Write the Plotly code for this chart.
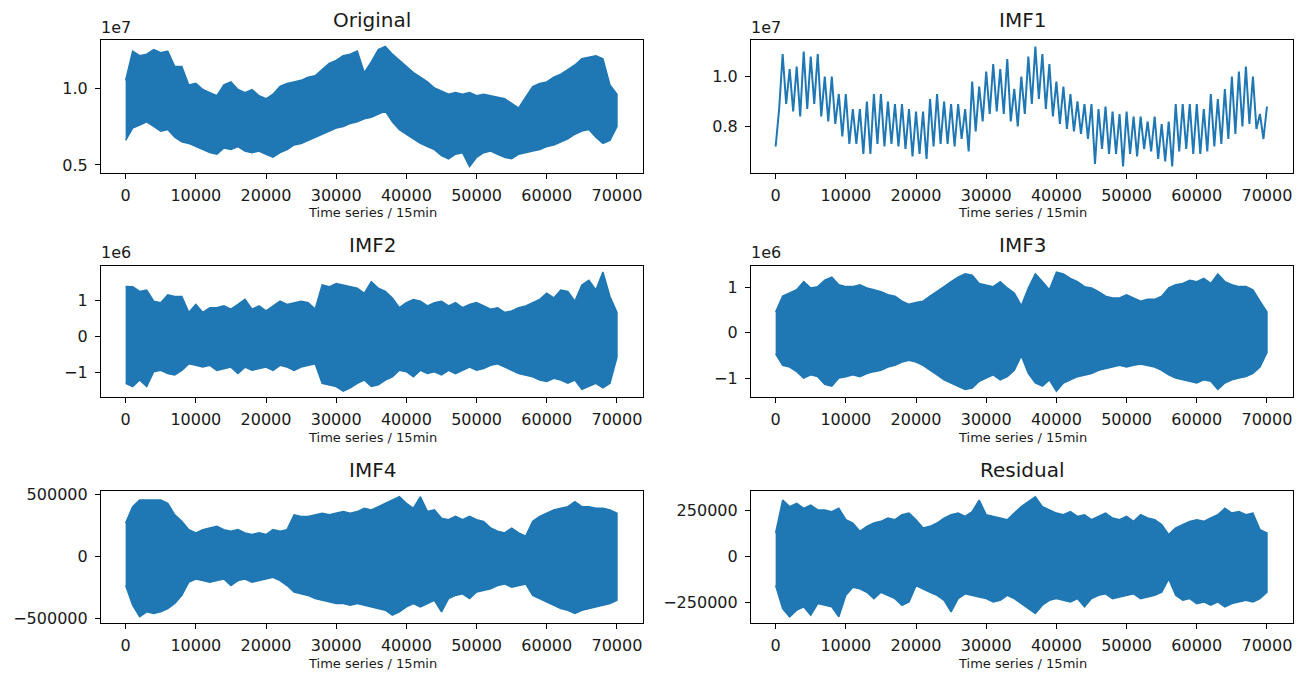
import numpy as np
import plotly.graph_objects as go

# ---------------- data ----------------
X_TICKS = [0, 10000, 20000, 30000, 40000, 50000, 60000, 70000]
X_TICK_LABELS = ["0", "10000", "20000", "30000", "40000", "50000", "60000", "70000"]
SAMPLE_X = [i * 1000 for i in range(71)]          # envelope sample positions
TROUGH_X = [i * 1000 + 500 for i in range(70)]    # IMF1 trough positions

# Original (x1e7) envelope
ORIGINAL_UPPER = [1.05, 1.24, 1.21, 1.22, 1.25, 1.23, 1.24, 1.14, 1.14, 1.02,
                  1.03, 0.99, 0.97, 0.95, 1.02, 1.04, 0.99, 0.97, 0.99, 0.95,
                  0.93, 0.96, 1.01, 1.03, 1.04, 1.05, 1.07, 1.08, 1.12, 1.16,
                  1.18, 1.21, 1.22, 1.24, 1.10, 1.17, 1.25, 1.27, 1.22, 1.18,
                  1.14, 1.10, 1.07, 1.04, 1.00, 0.98, 0.96, 0.97, 0.96, 0.97,
                  0.95, 0.96, 0.95, 0.94, 0.93, 0.90, 0.87, 0.94, 1.01, 1.03,
                  1.04, 1.07, 1.09, 1.12, 1.15, 1.19, 1.20, 1.21, 1.19, 1.02,
                  0.96]
ORIGINAL_LOWER = [0.66, 0.74, 0.76, 0.78, 0.75, 0.72, 0.73, 0.68, 0.65, 0.64,
                  0.62, 0.60, 0.58, 0.57, 0.61, 0.60, 0.62, 0.59, 0.58, 0.59,
                  0.57, 0.55, 0.58, 0.60, 0.63, 0.64, 0.66, 0.68, 0.70, 0.72,
                  0.74, 0.75, 0.77, 0.78, 0.80, 0.81, 0.83, 0.85, 0.78, 0.73,
                  0.70, 0.67, 0.64, 0.62, 0.60, 0.56, 0.54, 0.57, 0.58, 0.49,
                  0.55, 0.58, 0.59, 0.57, 0.55, 0.54, 0.57, 0.58, 0.59, 0.60,
                  0.62, 0.63, 0.65, 0.67, 0.70, 0.72, 0.73, 0.68, 0.64, 0.66,
                  0.75]

# IMF1 (x1e7) peaks at SAMPLE_X and troughs at TROUGH_X
IMF1_PEAKS = [0.72, 1.09, 1.03, 1.04, 1.10, 1.08, 1.09, 1.00, 1.00, 0.93,
              0.93, 0.87, 0.87, 0.90, 0.93, 0.93, 0.90, 0.89, 0.89, 0.87,
              0.86, 0.86, 0.91, 0.93, 0.90, 0.89, 0.89, 0.87, 0.98, 0.96,
              1.02, 1.05, 1.03, 1.07, 0.95, 1.00, 1.08, 1.12, 1.09, 1.05,
              0.98, 0.96, 0.93, 0.90, 0.89, 0.89, 0.87, 0.88, 0.86, 0.85,
              0.86, 0.84, 0.84, 0.82, 0.84, 0.81, 0.82, 0.89, 0.89, 0.89,
              0.89, 0.87, 0.93, 0.91, 0.95, 1.00, 1.02, 1.04, 1.00, 0.85,
              0.88]
IMF1_TROUGHS = [0.87, 0.89, 0.86, 0.84, 0.87, 0.89, 0.84, 0.82, 0.81, 0.76,
                0.73, 0.73, 0.69, 0.69, 0.73, 0.72, 0.73, 0.72, 0.71, 0.68,
                0.69, 0.67, 0.72, 0.73, 0.73, 0.72, 0.75, 0.70, 0.78, 0.82,
                0.85, 0.86, 0.85, 0.82, 0.80, 0.85, 0.89, 0.91, 0.87, 0.84,
                0.81, 0.79, 0.78, 0.77, 0.75, 0.65, 0.71, 0.69, 0.69, 0.64,
                0.69, 0.68, 0.71, 0.70, 0.67, 0.66, 0.64, 0.70, 0.71, 0.69,
                0.69, 0.70, 0.72, 0.73, 0.75, 0.77, 0.80, 0.81, 0.79, 0.75]

# IMF2 (x1e6)
IMF2_UPPER = [1.40, 1.39, 1.26, 1.30, 0.99, 0.95, 1.17, 1.12, 1.12, 0.68,
              0.90, 0.68, 0.81, 0.81, 0.86, 0.77, 0.90, 1.04, 0.77, 0.86,
              0.72, 0.86, 0.99, 0.90, 0.95, 0.99, 0.95, 0.77, 1.44, 1.39,
              1.48, 1.44, 1.39, 1.35, 1.21, 1.53, 1.35, 1.26, 1.08, 0.81,
              0.95, 1.04, 0.99, 0.86, 0.95, 0.99, 0.86, 0.95, 0.81, 0.90,
              0.95, 0.86, 0.77, 0.81, 0.68, 0.72, 0.81, 0.86, 0.95, 1.04,
              1.21, 1.08, 1.30, 1.26, 0.99, 1.44, 1.57, 1.30, 1.80, 1.12,
              0.68]
IMF2_LOWER = [-1.29, -1.38, -1.20, -1.38, -0.97, -0.93, -1.02, -1.06, -0.93, -0.75,
              -0.79, -0.84, -0.79, -0.93, -0.88, -0.84, -1.02, -0.84, -0.93, -0.88,
              -0.84, -0.93, -0.79, -0.84, -0.93, -0.84, -0.79, -0.75, -1.29, -1.33,
              -1.38, -1.51, -1.42, -1.29, -1.20, -1.38, -1.33, -1.20, -1.11, -0.93,
              -0.97, -1.11, -0.93, -1.02, -0.97, -1.06, -0.93, -1.02, -0.93, -0.84,
              -0.93, -0.88, -0.79, -0.75, -0.84, -0.93, -1.02, -1.06, -1.11, -1.20,
              -1.24, -1.15, -1.20, -1.29, -1.20, -1.46, -1.38, -1.29, -1.42, -1.29,
              -0.57]

# IMF3 (x1e6)
IMF3_UPPER = [0.45, 0.80, 0.87, 0.94, 1.12, 0.98, 1.01, 1.15, 1.22, 1.05,
              1.01, 1.01, 1.05, 0.98, 0.94, 0.90, 0.83, 0.80, 0.69, 0.62,
              0.66, 0.69, 0.80, 0.90, 1.01, 1.12, 1.22, 1.29, 1.26, 1.08,
              1.05, 1.01, 1.12, 0.98, 0.87, 0.59, 0.98, 1.29, 1.12, 0.94,
              1.33, 1.29, 1.19, 1.12, 1.01, 0.98, 0.90, 0.80, 0.76, 0.76,
              0.83, 0.76, 0.69, 0.73, 0.73, 0.80, 0.98, 1.05, 1.08, 1.15,
              1.12, 1.19, 1.08, 1.29, 1.12, 1.05, 1.01, 1.01, 0.94, 0.69,
              0.45]
IMF3_LOWER = [-0.47, -0.72, -0.76, -0.86, -1.00, -0.93, -0.97, -1.14, -1.18, -1.00,
              -0.97, -0.93, -0.97, -0.90, -0.86, -0.83, -0.76, -0.72, -0.65, -0.61,
              -0.65, -0.72, -0.83, -0.93, -1.04, -1.11, -1.18, -1.25, -1.22, -1.07,
              -1.00, -0.93, -1.04, -0.97, -0.83, -0.51, -0.90, -1.11, -1.18, -1.04,
              -1.29, -1.11, -1.04, -0.97, -0.93, -0.90, -0.83, -0.79, -0.76, -0.72,
              -0.76, -0.72, -0.69, -0.72, -0.76, -0.83, -0.93, -1.00, -1.04, -1.07,
              -1.11, -1.04, -1.07, -1.25, -1.11, -1.04, -1.00, -0.97, -0.90, -0.76,
              -0.44]

# IMF4 (thousands)
IMF4_UPPER = [271, 404, 457, 457, 457, 457, 431, 338, 285, 218,
              192, 218, 231, 245, 218, 205, 218, 192, 178, 192,
              178, 218, 205, 218, 338, 325, 325, 338, 351, 338,
              351, 364, 351, 364, 391, 378, 404, 431, 457, 484,
              431, 391, 484, 364, 378, 311, 298, 325, 298, 325,
              298, 285, 231, 205, 192, 231, 192, 165, 285, 325,
              351, 378, 391, 404, 444, 404, 404, 391, 391, 378,
              351]
IMF4_LOWER = [-234, -394, -487, -447, -460, -447, -420, -380, -314, -207,
              -181, -194, -207, -194, -181, -234, -194, -181, -207, -194,
              -181, -168, -194, -234, -287, -301, -314, -340, -354, -367,
              -380, -380, -394, -380, -394, -407, -420, -434, -473, -447,
              -407, -380, -407, -380, -354, -447, -340, -314, -301, -340,
              -287, -274, -261, -234, -221, -247, -234, -221, -314, -340,
              -367, -394, -420, -434, -460, -434, -420, -407, -394, -380,
              -354]

# Residual (thousands)
RESID_UPPER = [129, 308, 272, 290, 263, 281, 254, 254, 245, 263,
               201, 183, 138, 165, 183, 192, 210, 201, 228, 237,
               201, 156, 165, 183, 210, 228, 237, 219, 245, 308,
               228, 219, 210, 201, 237, 272, 299, 326, 272, 254,
               237, 228, 245, 219, 228, 201, 219, 237, 210, 201,
               219, 192, 228, 210, 201, 174, 120, 156, 174, 192,
               201, 192, 210, 228, 263, 237, 245, 228, 237, 147,
               129]
RESID_LOWER = [-158, -283, -328, -292, -274, -319, -256, -265, -274, -328,
               -211, -167, -176, -194, -229, -194, -211, -229, -265, -247,
               -158, -176, -194, -211, -238, -301, -229, -203, -211, -220,
               -229, -247, -238, -211, -229, -256, -283, -310, -265, -238,
               -229, -238, -247, -229, -274, -229, -211, -203, -229, -220,
               -211, -203, -229, -220, -211, -194, -122, -211, -238, -229,
               -256, -247, -265, -247, -274, -256, -247, -238, -247, -229,
               -194]

# ---------------- layout helpers ----------------
W, H = 1307, 681
COLOR = "#1f77b4"
FONT = "DejaVu Sans"


def px(x):
    return x / W


def py(y):
    return 1 - y / H


COLS = [(101, 643), (751, 1293)]
ROWS = [(36, 170), (265, 398), (493, 627)]

fig = go.Figure()

panels = [
    # title, row, col, kind, a, b, scale, ticks, ticktext, offset text
    ("Original", 0, 0, "band", ORIGINAL_UPPER, ORIGINAL_LOWER, 1e7,
     [0.5e7, 1.0e7], ["0.5", "1.0"], "1e7"),
    ("IMF1", 0, 1, "line", IMF1_PEAKS, IMF1_TROUGHS, 1e7,
     [0.8e7, 1.0e7], ["0.8", "1.0"], "1e7"),
    ("IMF2", 1, 0, "band", IMF2_UPPER, IMF2_LOWER, 1e6,
     [-1e6, 0, 1e6], ["\u22121", "0", "1"], "1e6"),
    ("IMF3", 1, 1, "band", IMF3_UPPER, IMF3_LOWER, 1e6,
     [-1e6, 0, 1e6], ["\u22121", "0", "1"], "1e6"),
    ("IMF4", 2, 0, "band", IMF4_UPPER, IMF4_LOWER, 1e3,
     [-500000, 0, 500000], ["\u2212500000", "0", "500000"], None),
    ("Residual", 2, 1, "band", RESID_UPPER, RESID_LOWER, 1e3,
     [-250000, 0, 250000], ["\u2212250000", "0", "250000"], None),
]

annotations = []
n_max = 70200.0
x_range = [-0.05 * n_max, 1.05 * n_max]

for i, (title, r, c, kind, a, b, scale, tv, tt, off) in enumerate(panels, start=1):
    xa = "x" if i == 1 else f"x{i}"
    ya = "y" if i == 1 else f"y{i}"
    a = np.array(a, dtype=float) * scale
    b = np.array(b, dtype=float) * scale
    if kind == "band":
        xs = list(SAMPLE_X) + list(SAMPLE_X[::-1])
        ys = list(a) + list(b[::-1])
        fig.add_trace(go.Scatter(x=xs, y=ys, mode="lines", fill="toself",
                                 fillcolor=COLOR,
                                 line=dict(color=COLOR, width=1.5),
                                 xaxis=xa, yaxis=ya, showlegend=False,
                                 hoverinfo="skip"))
    else:
        xs, ys = [], []
        for k in range(len(SAMPLE_X)):
            xs.append(SAMPLE_X[k]); ys.append(a[k])
            if k < len(TROUGH_X):
                xs.append(TROUGH_X[k]); ys.append(b[k])
        fig.add_trace(go.Scatter(x=xs, y=ys, mode="lines",
                                 line=dict(color=COLOR, width=2),
                                 xaxis=xa, yaxis=ya, showlegend=False,
                                 hoverinfo="skip"))
    lo = min(a.min(), b.min())
    hi = max(a.max(), b.max())
    rng = hi - lo
    y_range = [lo - 0.05 * rng, hi + 0.05 * rng]

    x0, x1 = COLS[c]
    y0, y1 = ROWS[r]
    axis_common = dict(showline=True, mirror=True, linecolor="black", linewidth=1.2,
                       ticks="outside", ticklen=5, tickwidth=1.1, tickcolor="black",
                       showgrid=False, zeroline=False,
                       tickfont=dict(family=FONT, size=16, color="#1a1a1a"))
    fig.layout[f"xaxis{'' if i == 1 else i}"] = dict(
        domain=[px(x0), px(x1)], anchor=ya, range=x_range,
        tickmode="array", tickvals=X_TICKS, ticktext=X_TICK_LABELS,
        ticklabelstandoff=3, **axis_common)
    fig.layout[f"yaxis{'' if i == 1 else i}"] = dict(
        domain=[py(y1), py(y0)], anchor=xa, range=y_range,
        tickmode="array", tickvals=tv, ticktext=tt,
        ticklabelstandoff=4, **axis_common)

    # title
    annotations.append(dict(text=title, x=px((x0 + x1) / 2), y=py(y0 - 7),
                            xref="paper", yref="paper", xanchor="center", yanchor="bottom",
                            showarrow=False,
                            font=dict(family=FONT, size=20, color="#1a1a1a")))
    # x label
    annotations.append(dict(text="Time series / 15min", x=px((x0 + x1) / 2), y=py(y1 + 41),
                            xref="paper", yref="paper", xanchor="center", yanchor="middle",
                            showarrow=False,
                            font=dict(family=FONT, size=13, color="#1a1a1a")))
    if off:
        annotations.append(dict(text=off, x=px(x0 - 2), y=py(y0 - 2),
                                xref="paper", yref="paper", xanchor="left", yanchor="bottom",
                                showarrow=False,
                                font=dict(family=FONT, size=16, color="#1a1a1a")))

fig.update_layout(width=W, height=H, margin=dict(l=0, r=0, t=0, b=0),
                  paper_bgcolor="white", plot_bgcolor="white",
                  annotations=annotations, showlegend=False)

fig.write_html("out.html")
